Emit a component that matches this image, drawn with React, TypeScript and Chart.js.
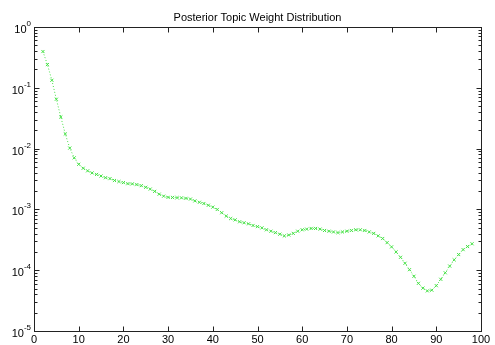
import React, { useEffect, useRef } from "react";
import { Chart, registerables } from "chart.js";

Chart.register(...registerables);

const chartTitle = "Posterior Topic Weight Distribution";

const topicIndex = [
  2, 3, 4, 5, 6, 7, 8, 9, 10, 11, 12, 13, 14, 15, 16, 17, 18, 19, 20, 21,
  22, 23, 24, 25, 26, 27, 28, 29, 30, 31, 32, 33, 34, 35, 36, 37, 38, 39, 40, 41,
  42, 43, 44, 45, 46, 47, 48, 49, 50, 51, 52, 53, 54, 55, 56, 57, 58, 59, 60, 61,
  62, 63, 64, 65, 66, 67, 68, 69, 70, 71, 72, 73, 74, 75, 76, 77, 78, 79, 80, 81,
  82, 83, 84, 85, 86, 87, 88, 89, 90, 91, 92, 93, 94, 95, 96, 97, 98,
];

const topicWeight = [
  0.395, 0.241, 0.133, 0.0648, 0.0331, 0.0174, 0.0102, 0.00705, 0.00552, 0.00475,
  0.00431, 0.00398, 0.00376, 0.00354, 0.00332, 0.00321, 0.00299, 0.00287, 0.00276, 0.00265,
  0.00263, 0.00256, 0.00246, 0.00231, 0.00216, 0.00198, 0.00178, 0.00165, 0.00158, 0.00157,
  0.00156, 0.00155, 0.00152, 0.00148, 0.00138, 0.00131, 0.00125, 0.00117, 0.00109, 0.000997,
  0.000882, 0.000777, 0.000708, 0.000673, 0.000626, 0.000603, 0.000579, 0.000544, 0.000521, 0.000497,
  0.000462, 0.000438, 0.000415, 0.000391, 0.000367, 0.000379, 0.000403, 0.000438, 0.000462, 0.000474,
  0.000486, 0.000486, 0.000474, 0.00045, 0.000438, 0.000426, 0.000415, 0.000426, 0.000438, 0.00045,
  0.000462, 0.000462, 0.00045, 0.000426, 0.000403, 0.000367, 0.000332, 0.000284, 0.000242, 0.0002,
  0.000163, 0.00013, 0.000102, 0.0000795, 0.0000608, 0.0000507, 0.0000457, 0.0000469, 0.0000557, 0.0000708,
  0.0000907, 0.000117, 0.000148, 0.000181, 0.000218, 0.000245, 0.000272,
];

const xTicks = [0, 10, 20, 30, 40, 50, 60, 70, 80, 90, 100];
const yExponents = [0, -1, -2, -3, -4, -5];

const FONT = "'Liberation Sans', Arial, Helvetica, sans-serif";
const LINE_COLOR = "rgb(70,225,70)";

const matlabAxesPlugin = {
  id: "matlabAxes",
  afterDraw(chart: any) {
    const { ctx, chartArea } = chart;
    const xs = chart.scales.x;
    const ys = chart.scales.y;
    const L = Math.round(chartArea.left) + 0.5;
    const R = Math.round(chartArea.right) + 0.5;
    const T = Math.round(chartArea.top) + 0.5;
    const B = Math.round(chartArea.bottom) + 0.5;
    ctx.save();
    ctx.strokeStyle = "#222";
    ctx.lineWidth = 1;
    ctx.setLineDash([]);
    ctx.strokeRect(L, T, R - L, B - T);

    ctx.beginPath();
    for (const v of xTicks) {
      const px = Math.round(xs.getPixelForValue(v)) + 0.5;
      ctx.moveTo(px, B);
      ctx.lineTo(px, B - 5);
      ctx.moveTo(px, T);
      ctx.lineTo(px, T + 5);
    }
    for (const e of yExponents) {
      const base = Math.pow(10, e);
      const py = Math.round(ys.getPixelForValue(base)) + 0.5;
      ctx.moveTo(L, py);
      ctx.lineTo(L + 5, py);
      ctx.moveTo(R, py);
      ctx.lineTo(R - 5, py);
      if (e < 0) {
        for (let m = 2; m <= 9; m++) {
          const my = Math.round(ys.getPixelForValue(base * m)) + 0.5;
          ctx.moveTo(L, my);
          ctx.lineTo(L + 3, my);
          ctx.moveTo(R, my);
          ctx.lineTo(R - 3, my);
        }
      }
    }
    ctx.stroke();

    ctx.fillStyle = "#000";
    const rightEdge = 31;
    for (const e of yExponents) {
      const py = ys.getPixelForValue(Math.pow(10, e));
      const expText = String(e);
      ctx.font = `8px ${FONT}`;
      const expW = ctx.measureText(expText).width;
      ctx.font = `11px ${FONT}`;
      const baseW = ctx.measureText("10").width;
      ctx.textBaseline = "alphabetic";
      ctx.textAlign = "left";
      ctx.fillText("10", rightEdge - expW - baseW, py + 6);
      ctx.font = `8px ${FONT}`;
      ctx.fillText(expText, rightEdge - expW, py - 1);
    }

    ctx.font = `11px ${FONT}`;
    ctx.textAlign = "center";
    ctx.textBaseline = "alphabetic";
    ctx.fillText(chartTitle, (chartArea.left + chartArea.right) / 2, 21);
    ctx.restore();
  },
};

export default function App() {
  const canvasRef = useRef<HTMLCanvasElement | null>(null);

  useEffect(() => {
    if (!canvasRef.current) return;
    const points = topicIndex.map((x, i) => ({ x, y: topicWeight[i] }));
    const chart = new Chart(canvasRef.current, {
      type: "line",
      data: {
        datasets: [
          {
            data: points,
            borderColor: LINE_COLOR,
            borderWidth: 1,
            borderDash: [1, 2],
            pointStyle: "crossRot",
            pointRadius: 2.2,
            pointBorderColor: LINE_COLOR,
            pointBorderWidth: 1,
            pointBackgroundColor: LINE_COLOR,
            tension: 0,
            fill: false,
          } as any,
        ],
      },
      options: {
        animation: false,
        responsive: false,
        devicePixelRatio: 1,
        events: [],
        layout: { padding: { top: 27, right: 14, left: 0, bottom: 0 } },
        plugins: {
          legend: { display: false },
          title: { display: false },
          tooltip: { enabled: false },
        },
        scales: {
          x: {
            type: "linear",
            min: 0,
            max: 100,
            grid: { display: false, drawTicks: false },
            border: { display: false },
            ticks: {
              stepSize: 10,
              autoSkip: false,
              maxRotation: 0,
              padding: 2,
              color: "#000",
              font: { family: FONT, size: 11 },
            },
            afterFit: (scale: any) => {
              scale.height = 14;
            },
          },
          y: {
            type: "logarithmic",
            min: 1e-5,
            max: 1,
            grid: { display: false, drawTicks: false },
            border: { display: false },
            ticks: { display: false },
            afterFit: (scale: any) => {
              scale.width = 34;
            },
          },
        },
      },
      plugins: [matlabAxesPlugin],
    });
    return () => chart.destroy();
  }, []);

  return (
    <div
      style={{
        position: "absolute",
        left: 0,
        top: 0,
        width: 495,
        height: 345,
        background: "#fff",
      }}
    >
      <canvas ref={canvasRef} width={495} height={345} />
    </div>
  );
}
